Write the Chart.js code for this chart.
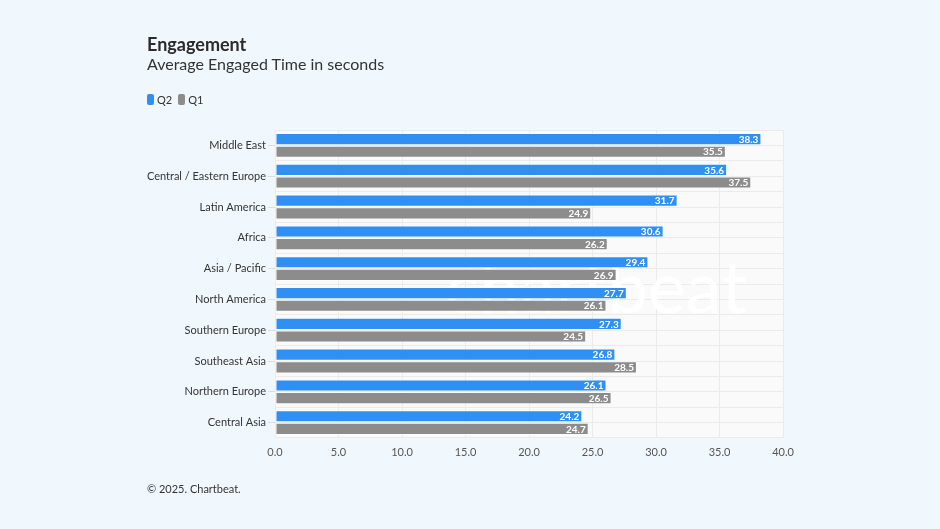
<!DOCTYPE html>
<html>
<head>
<meta charset="utf-8">
<script src="https://cdn.jsdelivr.net/npm/chart.js@4.4.1/dist/chart.umd.min.js"></script>
<style>
  html,body{margin:0;padding:0;background:#f1f8fd;}
  body{width:940px;height:529px;position:relative;overflow:hidden;font-family:"Source Sans Pro","Lato","Noto Sans",sans-serif;color:#333;}
  #wrap{position:absolute;left:0;top:0;width:940px;height:529px;}
  .title{position:absolute;left:147px;top:33px;font-size:18px;font-weight:700;color:#2b2b2b;}
  .sub{position:absolute;left:147px;top:54px;font-size:16px;color:#333;}
  .legend{position:absolute;left:147px;top:93px;font-size:11px;color:#333;display:flex;gap:6px;}
  .legend span{display:flex;align-items:center;gap:3px;}
  .legend i{display:inline-block;width:7px;height:11px;border-radius:2px;}
  .foot{position:absolute;left:147px;top:482px;font-size:11px;color:#333;}
</style>
</head>
<body>
<div id="wrap"><canvas id="chart" width="940" height="529"></canvas></div>
<div class="title">Engagement</div>
<div class="sub">Average Engaged Time in seconds</div>
<div class="legend">
  <span><i style="background:#2f8ff2"></i>Q2</span>
  <span><i style="background:#8c8c8c"></i>Q1</span>
</div>
<div class="foot">© 2025. Chartbeat.</div>
<script>
const regions = ["Middle East","Central / Eastern Europe","Latin America","Africa","Asia / Pacific","North America","Southern Europe","Southeast Asia","Northern Europe","Central Asia"];
const q2 = [38.3,35.6,31.7,30.6,29.4,27.7,27.3,26.8,26.1,24.2];
const q1 = [35.5,37.5,24.9,26.2,26.9,26.1,24.5,28.5,26.5,24.7];
const xTicks = [0,5,10,15,20,25,30,35,40];

const FONT = '"Source Sans Pro","Lato","Noto Sans",sans-serif';

const plotBg = {
  id:"plotBg",
  beforeDraw(chart){
    const {ctx, chartArea:a} = chart;
    ctx.save();
    ctx.fillStyle = "#fafafa";
    ctx.fillRect(a.left, a.top, a.right-a.left, a.bottom-a.top);
    ctx.restore();
  },
  beforeDatasetsDraw(chart){
    const {ctx, chartArea:a} = chart;
    ctx.save();
    ctx.font = "72px " + FONT;
    ctx.fillStyle = "rgba(255,255,255,0.95)";
    ctx.textAlign = "right";
    ctx.textBaseline = "alphabetic";
    ctx.fillText("chartbeat", a.right - 36, a.top + 183);
    ctx.restore();
  }
};

const barLabels = {
  id:"barLabels",
  afterDatasetsDraw(chart){
    const ctx = chart.ctx;
    ctx.save();
    ctx.font = "bold 10px " + FONT;
    ctx.fillStyle = "#ffffff";
    ctx.textAlign = "right";
    ctx.textBaseline = "middle";
    chart.data.datasets.forEach((ds,i)=>{
      chart.getDatasetMeta(i).data.forEach((bar,j)=>{
        ctx.fillText(ds.data[j].toFixed(1), bar.x - 3, bar.y + 0.5);
      });
    });
    ctx.restore();
  }
};

new Chart(document.getElementById("chart"), {
  type:"bar",
  data:{
    labels: regions,
    datasets:[
      {label:"Q2", data:q2, backgroundColor:"#2f8ff2", borderColor:"rgba(255,255,255,0.55)", borderWidth:1, borderSkipped:false, categoryPercentage:0.82, barPercentage:0.96},
      {label:"Q1", data:q1, backgroundColor:"#8c8c8c", borderColor:"rgba(255,255,255,0.55)", borderWidth:1, borderSkipped:false, categoryPercentage:0.82, barPercentage:0.96},
    ],
  },
  options:{
    indexAxis:"y",
    responsive:false,
    animation:false,
    layout:{padding:{top:130, right:157, bottom:66, left:0}},
    scales:{
      x:{
        min:0, max:40,
        afterBuildTicks(s){ s.ticks = xTicks.map(v=>({value:v})); },
        afterFit(s){ s.height = 25; },
        grid:{color:"#ebebeb", drawTicks:false},
        border:{display:false},
        ticks:{padding:8, color:"#555", font:{family:FONT, size:11}, callback:v=>v.toFixed(1)},
      },
      y:{
        afterFit(s){ s.width = 275; },
        grid:{offset:false, color:"#ebebeb", tickLength:7, tickColor:"#dddddd"},
        border:{display:false},
        ticks:{padding:2, color:"#333", font:{family:FONT, size:11}},
      },
      y2:{
        type:"category",
        labels: regions,
        position:"left",
        afterFit(s){ s.width = 0; },
        grid:{offset:true, color:"#ebebeb", drawTicks:false},
        border:{display:false},
        ticks:{display:false},
      },
    },
    plugins:{legend:{display:false}, tooltip:{enabled:false}},
  },
  plugins:[plotBg, barLabels],
});
</script>
</body>
</html>
